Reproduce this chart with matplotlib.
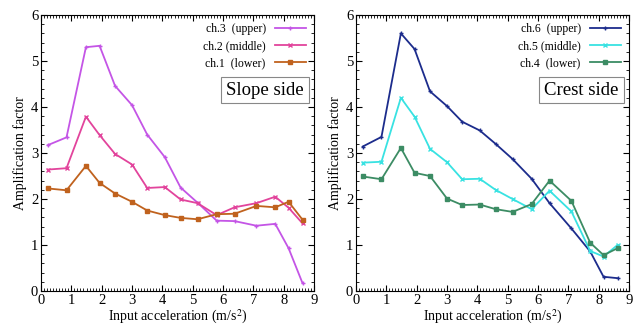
import matplotlib.pyplot as plt
from matplotlib.ticker import MultipleLocator

plt.rcParams['font.family'] = ['Liberation Serif', 'DejaVu Serif']
plt.rcParams['mathtext.fontset'] = 'stix'

# input acceleration (m/s^2)
acc = [0.22, 0.84, 1.48, 1.93, 2.44, 3.0, 3.5, 4.08, 4.6, 5.16, 5.79, 6.38, 7.1, 7.72, 8.16, 8.62]

# slope side
ch3 = [3.17, 3.34, 5.30, 5.33, 4.46, 4.04, 3.40, 2.91, 2.25, 1.92, 1.53, 1.52, 1.42, 1.46, 0.93, 0.17]
ch2 = [2.64, 2.67, 3.79, 3.39, 2.98, 2.75, 2.24, 2.26, 1.99, 1.91, 1.65, 1.82, 1.91, 2.05, 1.81, 1.47]
ch1 = [2.23, 2.19, 2.72, 2.35, 2.12, 1.94, 1.75, 1.65, 1.59, 1.56, 1.67, 1.68, 1.85, 1.82, 1.94, 1.55]

# crest side
ch6 = [3.14, 3.35, 5.60, 5.26, 4.34, 4.02, 3.68, 3.49, 3.20, 2.87, 2.44, 1.91, 1.36, 0.86, 0.31, 0.28]
ch5 = [2.79, 2.81, 4.20, 3.79, 3.09, 2.80, 2.43, 2.44, 2.20, 2.00, 1.78, 2.18, 1.73, 0.87, 0.75, 1.00]
ch4 = [2.49, 2.43, 3.11, 2.57, 2.50, 2.01, 1.87, 1.88, 1.78, 1.72, 1.89, 2.40, 1.96, 1.05, 0.78, 0.93]

fig = plt.figure(figsize=(6.35, 3.33), dpi=100)
ax1 = fig.add_axes([0.0646, 0.126, 0.43, 0.829])
ax2 = fig.add_axes([0.5606, 0.126, 0.43, 0.829])

panels = [
    (ax1, [(ch3, 'ch.3  (upper)', '#c455e6', '+'),
           (ch2, 'ch.2 (middle)', '#e2449c', 'x'),
           (ch1, 'ch.1  (lower)', '#c0621e', 's')], 'Slope side'),
    (ax2, [(ch6, 'ch.6  (upper)', '#1c2c8c', '+'),
           (ch5, 'ch.5 (middle)', '#38e2e2', 'x'),
           (ch4, 'ch.4  (lower)', '#3c8c64', 's')], 'Crest side'),
]

for ax, series, title in panels:
    for vals, lab, col, mk in series:
        ax.plot(acc, vals, color=col, lw=1.3, marker=mk, ms=3.5 if mk != 's' else 2.5,
                mew=1.0, label=lab)
    ax.set_xlim(0, 9)
    ax.set_ylim(0, 6)
    ax.xaxis.set_major_locator(MultipleLocator(1))
    ax.xaxis.set_minor_locator(MultipleLocator(0.1))
    ax.yaxis.set_major_locator(MultipleLocator(1))
    ax.yaxis.set_minor_locator(MultipleLocator(0.2))
    ax.tick_params(which='both', direction='in', top=True, right=True, labelsize=10.5, pad=2)
    ax.tick_params(which='major', length=4)
    ax.tick_params(which='minor', length=2)
    ax.set_xlabel('Input acceleration (m/s$^2$)', fontsize=10, labelpad=1)
    ax.set_ylabel('Amplification factor', fontsize=10, labelpad=3)
    ax.legend(loc='upper right', frameon=False, markerfirst=False, fontsize=8.5,
              handlelength=2.6, labelspacing=0.42, borderaxespad=0.3)
    ax.text(0.962, 0.728, title, transform=ax.transAxes, ha='right', va='center',
            fontsize=13.5, bbox=dict(facecolor='white', edgecolor='#888888', lw=0.8, pad=3.5))

fig.savefig('out.png', dpi=100)
